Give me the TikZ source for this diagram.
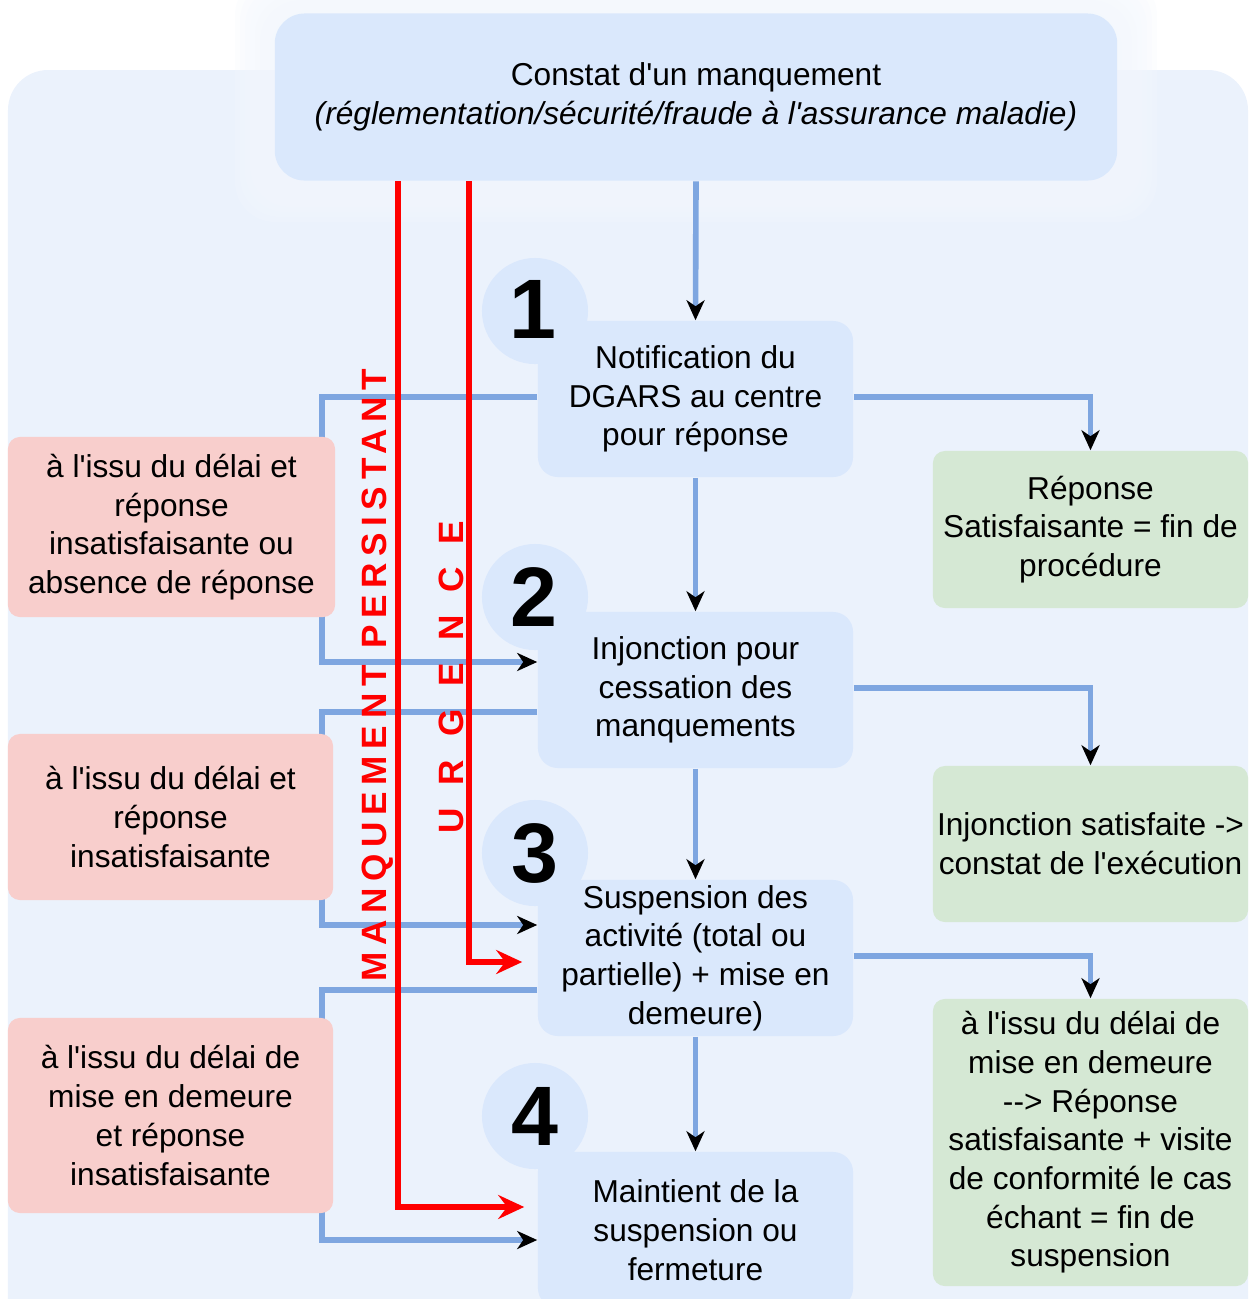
\documentclass[tikz,border=0pt]{standalone}
\usepackage{fontspec}
\setmainfont{Liberation Sans}[Ligatures=TeXOff]
\usetikzlibrary{arrows.meta}
\definecolor{panel}{HTML}{EBF2FC}
\definecolor{haze}{HTML}{F3F7FD}
\definecolor{boxblue}{HTML}{DAE8FC}
\definecolor{boxred}{HTML}{F8CECC}
\definecolor{boxgreen}{HTML}{D5E8D4}
\definecolor{linkblue}{HTML}{7EA6E0}

\begin{document}
\begin{tikzpicture}[x=0.01cm, y=-0.01cm,
    every node/.style={font=\fontsize{9}{11}\selectfont},
    etape/.style={fill=boxblue, rounded corners=0.2cm, minimum width=3.15cm, minimum height=1.56cm, align=center, inner sep=0},
    rond/.style={circle, fill=boxblue, minimum size=1.06cm, inner sep=0},
    num/.style={inner sep=0, font=\fontsize{24}{24}\selectfont\bfseries},
    avis/.style={fill=boxred, rounded corners=0.12cm, align=center, inner sep=0},
    issue/.style={fill=boxgreen, rounded corners=0.12cm, align=center, inner sep=0, minimum width=3.15cm},
    lien/.style={draw=linkblue, line width=1.6pt, -{Stealth[black, length=2mm, width=1.8mm, inset=0.6mm]}},
    rouge/.style={draw=red, line width=1.7pt, -{Stealth[red, length=2.6mm, width=2.4mm, inset=0.9mm]}},
    vertical/.style={rotate=90, text=red, font=\fontsize{10}{12}\selectfont\bfseries\addfontfeature{LetterSpace=19}}]
    \useasboundingbox (0,0) rectangle (1254,1299);
    \fill[panel, rounded corners=0.4cm] (8,70) rectangle (1248,1340);
    % halo autour du constat
    \foreach \g in {40,35,...,5}
        \fill[haze, opacity=0.25, rounded corners=0.4cm] (275-\g,15-\g) rectangle (1117+\g,182+\g);
    \node[etape, minimum width=8.42cm, minimum height=1.67cm, rounded corners=0.3cm] (constat) at (696,97)
        {Constat d'un manquement\\\textit{(réglementation/sécurité/fraude à l'assurance maladie)}};

    % les quatre etapes
    \node[rond] (c1) at (535,311) {};
    \node[rond] (c2) at (535,597) {};
    \node[rond] (c3) at (535,853) {};
    \node[rond] (c4) at (535,1116) {};
    \node[etape] (n1) at (695.5,399) {Notification du\\DGARS au centre\\pour réponse};
    \node[etape] (n2) at (695.5,690) {Injonction pour\\cessation des\\manquements};
    \node[etape] (n3) at (695.5,958) {Suspension des\\activité (total ou\\partielle) + mise en\\demeure)};
    \node[etape] (n4) at (695.5,1230) {Maintient de la\\suspension ou\\fermeture};
    \node[num] at ([xshift=-0.02cm, yshift=0.02cm]c1) {1};
    \node[num] at ([xshift=-0.01cm]c2) {2};
    \node[num] at (c3) {3};
    \node[num] at (c4) {4};

    % issues favorables
    \node[issue, minimum height=1.57cm] (g1) at (1090.5,529.5) {Réponse\\Satisfaisante = fin de\\procédure};
    \node[issue, minimum height=1.56cm] (g2) at (1090.5,844) {Injonction satisfaite ->\\constat de l'exécution};
    \node[issue, minimum height=2.87cm] (g3) at (1090.5,1142.5) {à l'issu du délai de\\mise en demeure\\--> Réponse\\satisfaisante + visite\\de conformité le cas\\échant = fin de\\suspension};

    \draw[lien] (constat.south) -- (n1.north);
    \draw[lien] (n1.south) -- (n2.north);
    \draw[lien] (n2.south) -- (n3.north);
    \draw[lien] (n3.south) -- (n4.north);
    \draw[lien] ([yshift=0.02cm]n1.east) -| (g1.north);
    \draw[lien] ([yshift=0.02cm]n2.east) -| (g2.north);
    \draw[lien] ([yshift=0.02cm]n3.east) -| (g3.north);
    \draw[lien] ([yshift=0.02cm]n1.west) -- ++(-215,0) |- ([yshift=0.28cm]n2.west);
    \draw[lien] ([yshift=-0.22cm]n2.west) -- ++(-215,0) |- ([yshift=0.33cm]n3.west);
    \draw[lien] ([yshift=-0.32cm]n3.west) -- ++(-215,0) |- ([yshift=-0.1cm]n4.west);

    % conditions defavorables
    \node[avis, minimum width=3.27cm, minimum height=1.8cm] (r1) at (171.5,527) {à l'issu du délai et\\réponse\\insatisfaisante ou\\absence de réponse};
    \node[avis, minimum width=3.25cm, minimum height=1.66cm] (r2) at (170.5,817) {à l'issu du délai et\\réponse\\insatisfaisante};
    \node[avis, minimum width=3.25cm, minimum height=1.95cm] (r3) at (170.5,1115.5) {à l'issu du délai de\\mise en demeure\\et réponse\\insatisfaisante};

    % raccourcis
    \draw[rouge, shorten >=0.13cm] ([xshift=-2.98cm]constat.south) |- ([yshift=0.23cm]n4.west);
    \draw[rouge, shorten >=0.15cm] ([xshift=-2.27cm]constat.south) |- ([yshift=-0.04cm]n3.west);
    \node[vertical] (persistant) at (378,675) {MANQUEMENT PERSISTANT};
    \node[vertical, font=\fontsize{10}{12}\selectfont\bfseries\addfontfeature{LetterSpace=37}] (urgence) at (451,677) {U R G E N C E};
\end{tikzpicture}
\end{document}
